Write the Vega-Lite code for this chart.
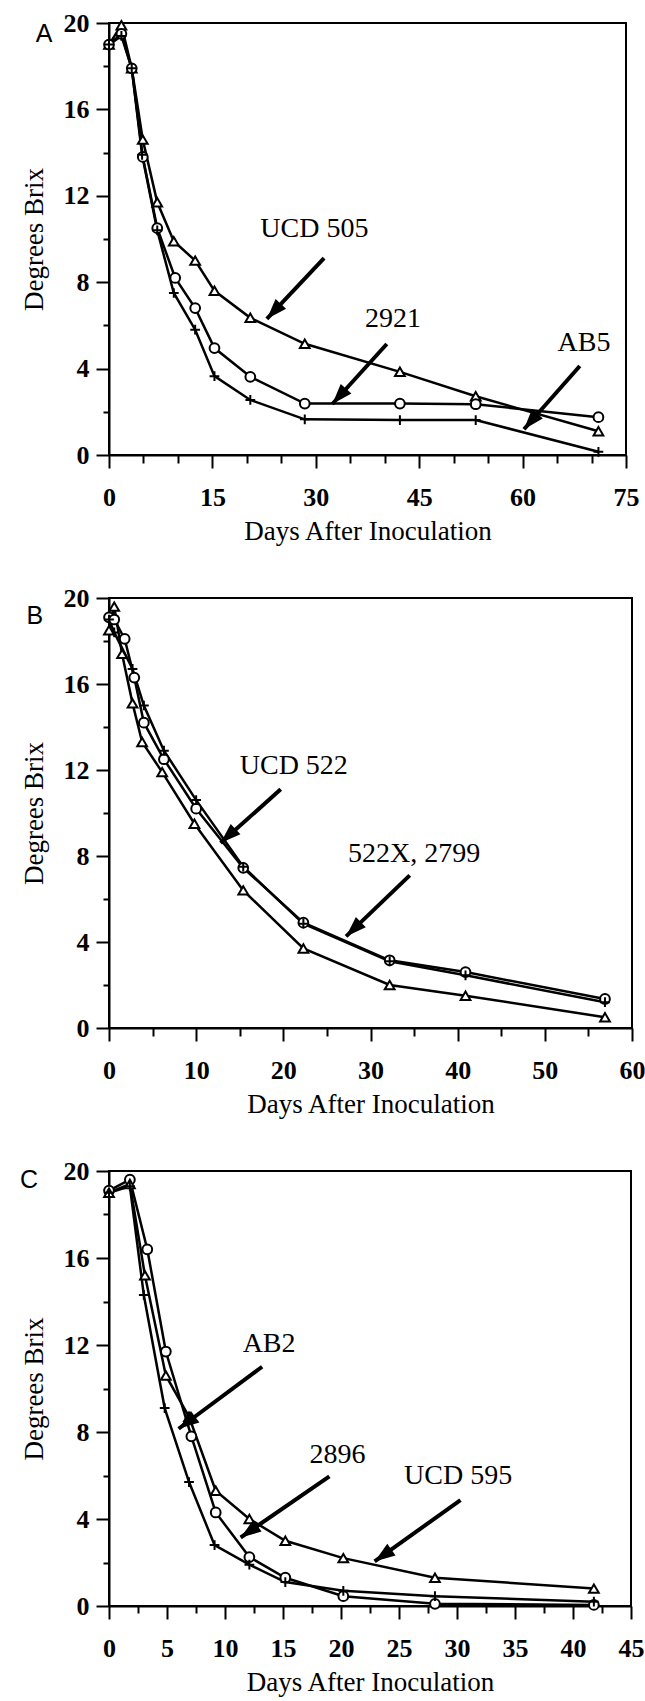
{
  "$schema": "https://vega.github.io/schema/vega-lite/v6.json",
  "padding": {"left": 18, "top": 9, "right": 5, "bottom": 5},
  "background": "white",
  "bounds": "flush",
  "spacing": 143,
  "config": {
    "view": {"stroke": "black", "strokeWidth": 2},
    "axis": {
      "grid": false,
      "domainColor": "black", "domainWidth": 2,
      "tickColor": "black", "tickWidth": 2,
      "labelFont": "Liberation Serif", "labelFontSize": 26, "labelFontWeight": "bold", "labelColor": "black",
      "labelFlush": false, "labelOverlap": false,
      "titleFont": "Liberation Serif", "titleFontSize": 27, "titleFontWeight": "normal", "titleColor": "black"
    },
    "axisX": {"labelPadding": 16, "titlePadding": 8},
    "axisY": {"labelPadding": 7, "titlePadding": 15}
  },
  "datasets": {
    "A": [
      {"strain": "UCD 505", "day": 0, "brix": 19.0}, {"strain": "UCD 505", "day": 1.8, "brix": 19.9}, {"strain": "UCD 505", "day": 3.3, "brix": 17.9}, {"strain": "UCD 505", "day": 4.9, "brix": 14.6}, {"strain": "UCD 505", "day": 7.0, "brix": 11.7}, {"strain": "UCD 505", "day": 9.4, "brix": 9.9}, {"strain": "UCD 505", "day": 12.5, "brix": 9.0}, {"strain": "UCD 505", "day": 15.3, "brix": 7.6}, {"strain": "UCD 505", "day": 20.5, "brix": 6.35}, {"strain": "UCD 505", "day": 28.4, "brix": 5.15}, {"strain": "UCD 505", "day": 42.2, "brix": 3.85}, {"strain": "UCD 505", "day": 53.2, "brix": 2.72}, {"strain": "UCD 505", "day": 71, "brix": 1.1},
      {"strain": "2921", "day": 0, "brix": 19.0}, {"strain": "2921", "day": 1.8, "brix": 19.5}, {"strain": "2921", "day": 3.3, "brix": 17.9}, {"strain": "2921", "day": 4.9, "brix": 13.8}, {"strain": "2921", "day": 7.0, "brix": 10.5}, {"strain": "2921", "day": 9.6, "brix": 8.2}, {"strain": "2921", "day": 12.5, "brix": 6.8}, {"strain": "2921", "day": 15.3, "brix": 4.95}, {"strain": "2921", "day": 20.5, "brix": 3.62}, {"strain": "2921", "day": 28.4, "brix": 2.38}, {"strain": "2921", "day": 42.2, "brix": 2.38}, {"strain": "2921", "day": 53.2, "brix": 2.35}, {"strain": "2921", "day": 71, "brix": 1.75},
      {"strain": "AB5", "day": 0, "brix": 19.0}, {"strain": "AB5", "day": 1.8, "brix": 19.4}, {"strain": "AB5", "day": 3.3, "brix": 17.9}, {"strain": "AB5", "day": 4.8, "brix": 13.9}, {"strain": "AB5", "day": 7.0, "brix": 10.4}, {"strain": "AB5", "day": 9.4, "brix": 7.5}, {"strain": "AB5", "day": 12.5, "brix": 5.8}, {"strain": "AB5", "day": 15.3, "brix": 3.65}, {"strain": "AB5", "day": 20.5, "brix": 2.55}, {"strain": "AB5", "day": 28.4, "brix": 1.65}, {"strain": "AB5", "day": 42.2, "brix": 1.62}, {"strain": "AB5", "day": 53.2, "brix": 1.62}, {"strain": "AB5", "day": 71, "brix": 0.15}
    ],
    "arrA": [
      {"day": 22.9, "brix": 6.3, "day0": 31.2, "brix0": 9.12, "angle": 223},
      {"day": 32.4, "brix": 2.36, "day0": 40.3, "brix0": 5.14, "angle": 222},
      {"day": 60.2, "brix": 1.19, "day0": 68.3, "brix0": 4.12, "angle": 221}
    ],
    "txtA": [
      {"label": "UCD 505", "day": 29.8, "brix": 10.45},
      {"label": "2921", "day": 41.2, "brix": 6.3},
      {"label": "AB5", "day": 68.9, "brix": 5.2}
    ],
    "B": [
      {"strain": "UCD 522", "day": 0, "brix": 19.1}, {"strain": "UCD 522", "day": 0.6, "brix": 19.0}, {"strain": "UCD 522", "day": 1.8, "brix": 18.1}, {"strain": "UCD 522", "day": 2.9, "brix": 16.3}, {"strain": "UCD 522", "day": 4.0, "brix": 14.2}, {"strain": "UCD 522", "day": 6.3, "brix": 12.5}, {"strain": "UCD 522", "day": 10, "brix": 10.2}, {"strain": "UCD 522", "day": 15.4, "brix": 7.45}, {"strain": "UCD 522", "day": 22.3, "brix": 4.9}, {"strain": "UCD 522", "day": 32.2, "brix": 3.15}, {"strain": "UCD 522", "day": 40.9, "brix": 2.6}, {"strain": "UCD 522", "day": 56.9, "brix": 1.35},
      {"strain": "2799", "day": 0, "brix": 19.0}, {"strain": "2799", "day": 0.6, "brix": 18.4}, {"strain": "2799", "day": 2.7, "brix": 16.7}, {"strain": "2799", "day": 4.0, "brix": 15.0}, {"strain": "2799", "day": 6.3, "brix": 12.9}, {"strain": "2799", "day": 10, "brix": 10.6}, {"strain": "2799", "day": 15.4, "brix": 7.5}, {"strain": "2799", "day": 22.3, "brix": 4.85}, {"strain": "2799", "day": 32.2, "brix": 3.1}, {"strain": "2799", "day": 40.9, "brix": 2.45}, {"strain": "2799", "day": 56.9, "brix": 1.2},
      {"strain": "522X", "day": 0, "brix": 18.5}, {"strain": "522X", "day": 0.6, "brix": 19.6}, {"strain": "522X", "day": 1.5, "brix": 17.4}, {"strain": "522X", "day": 2.7, "brix": 15.1}, {"strain": "522X", "day": 3.8, "brix": 13.3}, {"strain": "522X", "day": 6.1, "brix": 11.9}, {"strain": "522X", "day": 9.8, "brix": 9.5}, {"strain": "522X", "day": 15.4, "brix": 6.4}, {"strain": "522X", "day": 22.3, "brix": 3.7}, {"strain": "522X", "day": 32.2, "brix": 2.0}, {"strain": "522X", "day": 40.9, "brix": 1.5}, {"strain": "522X", "day": 56.9, "brix": 0.5}
    ],
    "arrB": [
      {"day": 12.8, "brix": 8.6, "day0": 19.7, "brix0": 11.1, "angle": 227},
      {"day": 27.2, "brix": 4.26, "day0": 34.5, "brix0": 7.1, "angle": 226}
    ],
    "txtB": [
      {"label": "UCD 522", "day": 21.2, "brix": 12.2},
      {"label": "522X, 2799", "day": 35.0, "brix": 8.1}
    ],
    "C": [
      {"strain": "2896", "day": 0, "brix": 19.1}, {"strain": "2896", "day": 1.8, "brix": 19.6}, {"strain": "2896", "day": 3.3, "brix": 16.4}, {"strain": "2896", "day": 4.9, "brix": 11.7}, {"strain": "2896", "day": 7.1, "brix": 7.8}, {"strain": "2896", "day": 9.2, "brix": 4.3}, {"strain": "2896", "day": 12.1, "brix": 2.25}, {"strain": "2896", "day": 15.2, "brix": 1.3}, {"strain": "2896", "day": 20.2, "brix": 0.45}, {"strain": "2896", "day": 28.1, "brix": 0.1}, {"strain": "2896", "day": 41.8, "brix": 0.05},
      {"strain": "UCD 595", "day": 0, "brix": 19.0}, {"strain": "UCD 595", "day": 1.8, "brix": 19.4}, {"strain": "UCD 595", "day": 3.1, "brix": 15.2}, {"strain": "UCD 595", "day": 4.9, "brix": 10.6}, {"strain": "UCD 595", "day": 6.9, "brix": 8.7}, {"strain": "UCD 595", "day": 9.2, "brix": 5.3}, {"strain": "UCD 595", "day": 12.1, "brix": 4.0}, {"strain": "UCD 595", "day": 15.2, "brix": 3.0}, {"strain": "UCD 595", "day": 20.2, "brix": 2.2}, {"strain": "UCD 595", "day": 28.1, "brix": 1.3}, {"strain": "UCD 595", "day": 41.8, "brix": 0.8},
      {"strain": "AB2", "day": 0, "brix": 19.0}, {"strain": "AB2", "day": 1.8, "brix": 19.3}, {"strain": "AB2", "day": 3.0, "brix": 14.3}, {"strain": "AB2", "day": 4.8, "brix": 9.1}, {"strain": "AB2", "day": 6.9, "brix": 5.7}, {"strain": "AB2", "day": 9.1, "brix": 2.8}, {"strain": "AB2", "day": 12.1, "brix": 1.9}, {"strain": "AB2", "day": 15.2, "brix": 1.1}, {"strain": "AB2", "day": 20.2, "brix": 0.7}, {"strain": "AB2", "day": 28.1, "brix": 0.45}, {"strain": "AB2", "day": 41.8, "brix": 0.2}
    ],
    "arrC": [
      {"day": 6.0, "brix": 8.15, "day0": 13.2, "brix0": 11.0, "angle": 234},
      {"day": 11.35, "brix": 3.15, "day0": 19.0, "brix0": 5.96, "angle": 235},
      {"day": 22.9, "brix": 2.05, "day0": 30.3, "brix0": 4.87, "angle": 235}
    ],
    "txtC": [
      {"label": "AB2", "day": 13.8, "brix": 12.05},
      {"label": "2896", "day": 19.7, "brix": 6.96},
      {"label": "UCD 595", "day": 30.1, "brix": 5.96}
    ]
  },
  "vconcat": [
    {
      "width": 517, "height": 432,
      "encoding": {
        "x": {"field": "day", "type": "quantitative", "title": "Days After Inoculation", "scale": {"domain": [0, 75], "nice": false, "zero": false},
          "axis": {"values": [0, 5, 10, 15, 20, 25, 30, 35, 40, 45, 50, 55, 60, 65, 70, 75], "labelOverlap": false, "labelExpr": "datum.value % 15 === 0 ? datum.label : ''", "labelFontSize": {"condition": {"test": "datum.value % 15 === 0", "value": 26}, "value": 1}, "tickSize": {"condition": {"test": "datum.value % 15 === 0", "value": 13}, "value": 8}}},
        "y": {"field": "brix", "type": "quantitative", "title": "Degrees Brix", "scale": {"domain": [0, 20], "nice": false},
          "axis": {"values": [0, 2, 4, 6, 8, 10, 12, 14, 16, 18, 20], "labelOverlap": false, "labelExpr": "datum.value % 4 === 0 ? datum.label : ''", "labelFontSize": {"condition": {"test": "datum.value % 4 === 0", "value": 26}, "value": 1}, "tickSize": {"condition": {"test": "datum.value % 4 === 0", "value": 13}, "value": 6}}}
      },
      "layer": [
        {"data": {"name": "A"}, "mark": {"type": "line", "color": "black", "strokeWidth": 2.5}, "encoding": {"detail": {"field": "strain"}}},
        {"data": {"name": "A"}, "mark": {"type": "point", "filled": true, "fill": "white", "stroke": "black", "strokeWidth": 2, "opacity": 1, "size": 95},
          "encoding": {"shape": {"field": "strain", "type": "nominal", "legend": null, "scale": {"domain": ["UCD 505", "2921", "AB5"], "range": ["triangle-up", "circle", "M-1,0L1,0M0,-1L0,1"]}}}},
        {"data": {"name": "arrA"}, "mark": {"type": "rule", "color": "black", "strokeWidth": 4}, "encoding": {"x2": {"field": "day0"}, "y2": {"field": "brix0"}}},
        {"data": {"name": "arrA"}, "mark": {"type": "point", "shape": "M0,0L0.7,2L-0.7,2Z", "filled": true, "color": "black", "opacity": 1, "size": 420},
          "encoding": {"angle": {"field": "angle", "type": "quantitative", "scale": null}}},
        {"data": {"name": "txtA"}, "mark": {"type": "text", "font": "Liberation Serif", "fontSize": 28, "color": "black", "align": "center", "baseline": "middle"}, "encoding": {"text": {"field": "label"}}},
        {"data": {"values": [{"panel": "A", "day": -9.4, "brix": 19.5}]}, "mark": {"type": "text", "font": "Liberation Sans", "fontSize": 25, "color": "black", "align": "center", "baseline": "middle"}, "encoding": {"text": {"field": "panel"}}}
      ]
    },
    {
      "width": 523, "height": 430,
      "encoding": {
        "x": {"field": "day", "type": "quantitative", "title": "Days After Inoculation", "scale": {"domain": [0, 60], "nice": false, "zero": false},
          "axis": {"values": [0, 5, 10, 15, 20, 25, 30, 35, 40, 45, 50, 55, 60], "labelOverlap": false, "labelExpr": "datum.value % 10 === 0 ? datum.label : ''", "labelFontSize": {"condition": {"test": "datum.value % 10 === 0", "value": 26}, "value": 1}, "tickSize": {"condition": {"test": "datum.value % 10 === 0", "value": 13}, "value": 8}}},
        "y": {"field": "brix", "type": "quantitative", "title": "Degrees Brix", "scale": {"domain": [0, 20], "nice": false},
          "axis": {"values": [0, 2, 4, 6, 8, 10, 12, 14, 16, 18, 20], "labelOverlap": false, "labelExpr": "datum.value % 4 === 0 ? datum.label : ''", "labelFontSize": {"condition": {"test": "datum.value % 4 === 0", "value": 26}, "value": 1}, "tickSize": {"condition": {"test": "datum.value % 4 === 0", "value": 13}, "value": 6}}}
      },
      "layer": [
        {"data": {"name": "B"}, "mark": {"type": "line", "color": "black", "strokeWidth": 2.5}, "encoding": {"detail": {"field": "strain"}}},
        {"data": {"name": "B"}, "mark": {"type": "point", "filled": true, "fill": "white", "stroke": "black", "strokeWidth": 2, "opacity": 1, "size": 95},
          "encoding": {"shape": {"field": "strain", "type": "nominal", "legend": null, "scale": {"domain": ["522X", "UCD 522", "2799"], "range": ["triangle-up", "circle", "M-1,0L1,0M0,-1L0,1"]}}}},
        {"data": {"name": "arrB"}, "mark": {"type": "rule", "color": "black", "strokeWidth": 4}, "encoding": {"x2": {"field": "day0"}, "y2": {"field": "brix0"}}},
        {"data": {"name": "arrB"}, "mark": {"type": "point", "shape": "M0,0L0.7,2L-0.7,2Z", "filled": true, "color": "black", "opacity": 1, "size": 420},
          "encoding": {"angle": {"field": "angle", "type": "quantitative", "scale": null}}},
        {"data": {"name": "txtB"}, "mark": {"type": "text", "font": "Liberation Serif", "fontSize": 28, "color": "black", "align": "center", "baseline": "middle"}, "encoding": {"text": {"field": "label"}}},
        {"data": {"values": [{"panel": "B", "day": -8.5, "brix": 19.15}]}, "mark": {"type": "text", "font": "Liberation Sans", "fontSize": 25, "color": "black", "align": "center", "baseline": "middle"}, "encoding": {"text": {"field": "panel"}}}
      ]
    },
    {
      "width": 522, "height": 435,
      "encoding": {
        "x": {"field": "day", "type": "quantitative", "title": "Days After Inoculation", "scale": {"domain": [0, 45], "nice": false, "zero": false},
          "axis": {"values": [0, 2.5, 5, 7.5, 10, 12.5, 15, 17.5, 20, 22.5, 25, 27.5, 30, 32.5, 35, 37.5, 40, 42.5, 45], "labelOverlap": false, "labelExpr": "datum.value % 5 === 0 ? datum.label : ''", "labelFontSize": {"condition": {"test": "datum.value % 5 === 0", "value": 26}, "value": 1}, "tickSize": {"condition": {"test": "datum.value % 5 === 0", "value": 13}, "value": 7}}},
        "y": {"field": "brix", "type": "quantitative", "title": "Degrees Brix", "scale": {"domain": [0, 20], "nice": false},
          "axis": {"values": [0, 2, 4, 6, 8, 10, 12, 14, 16, 18, 20], "labelOverlap": false, "labelExpr": "datum.value % 4 === 0 ? datum.label : ''", "labelFontSize": {"condition": {"test": "datum.value % 4 === 0", "value": 26}, "value": 1}, "tickSize": {"condition": {"test": "datum.value % 4 === 0", "value": 13}, "value": 6}}}
      },
      "layer": [
        {"data": {"name": "C"}, "mark": {"type": "line", "color": "black", "strokeWidth": 2.5}, "encoding": {"detail": {"field": "strain"}}},
        {"data": {"name": "C"}, "mark": {"type": "point", "filled": true, "fill": "white", "stroke": "black", "strokeWidth": 2, "opacity": 1, "size": 95},
          "encoding": {"shape": {"field": "strain", "type": "nominal", "legend": null, "scale": {"domain": ["UCD 595", "2896", "AB2"], "range": ["triangle-up", "circle", "M-1,0L1,0M0,-1L0,1"]}}}},
        {"data": {"name": "arrC"}, "mark": {"type": "rule", "color": "black", "strokeWidth": 4}, "encoding": {"x2": {"field": "day0"}, "y2": {"field": "brix0"}}},
        {"data": {"name": "arrC"}, "mark": {"type": "point", "shape": "M0,0L0.7,2L-0.7,2Z", "filled": true, "color": "black", "opacity": 1, "size": 420},
          "encoding": {"angle": {"field": "angle", "type": "quantitative", "scale": null}}},
        {"data": {"name": "txtC"}, "mark": {"type": "text", "font": "Liberation Serif", "fontSize": 28, "color": "black", "align": "center", "baseline": "middle"}, "encoding": {"text": {"field": "label"}}},
        {"data": {"values": [{"panel": "C", "day": -6.9, "brix": 19.6}]}, "mark": {"type": "text", "font": "Liberation Sans", "fontSize": 25, "color": "black", "align": "center", "baseline": "middle"}, "encoding": {"text": {"field": "panel"}}}
      ]
    }
  ]
}
